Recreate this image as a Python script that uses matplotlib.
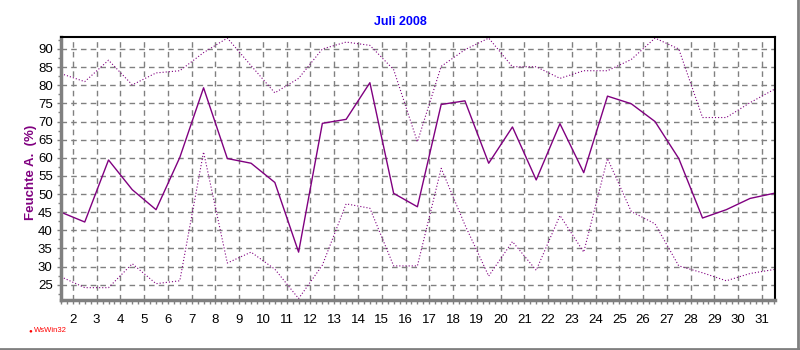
import numpy as np
import matplotlib
matplotlib.use('Agg')
import matplotlib.pyplot as plt
from matplotlib.ticker import MultipleLocator
from matplotlib.lines import Line2D

plt.rcParams['font.family'] = ['Liberation Sans', 'DejaVu Sans']

# daily humidity values, plotted at the middle of each day
days = np.arange(1, 32) + 0.5
mean_hum = [45.0, 42.3, 59.4, 51.2, 45.7, 60.1, 79.3, 59.8, 58.5, 53.2,
            34.0, 69.5, 70.6, 80.7, 50.2, 46.5, 74.7, 75.7, 58.5, 68.5,
            53.9, 69.4, 55.9, 77.0, 74.9, 70.0, 59.8, 43.4, 45.7, 48.8, 50.2]
max_hum = [83.2, 81.0, 86.9, 80.1, 83.4, 84.0, 89.0, 93.0, 85.4, 77.9,
           81.9, 90.0, 91.9, 91.0, 84.3, 64.4, 85.2, 89.8, 93.0, 85.1,
           85.1, 81.9, 84.0, 84.0, 87.1, 93.0, 90.0, 71.1, 71.1, 75.2, 78.8]
min_hum = [27.2, 24.2, 24.2, 30.8, 25.3, 26.1, 61.6, 31.0, 34.0, 29.3,
           21.2, 30.4, 47.3, 46.1, 30.2, 30.2, 57.1, 41.5, 27.4, 36.9,
           29.0, 44.1, 34.0, 59.8, 45.2, 41.8, 30.2, 28.3, 26.1, 28.1, 29.2]
day_ticks = list(range(2, 32))
hum_ticks = list(range(25, 95, 5))

purple = '#800080'

fig = plt.figure(figsize=(8, 3.5), dpi=100)
ax = fig.add_axes([61 / 800, 50 / 350, 714 / 800, 263 / 350])

ax.plot(days, max_hum, color=purple, lw=0.8, ls=(0, (1, 1.8)))
ax.plot(days, min_hum, color=purple, lw=0.8, ls=(0, (1, 1.8)))
ax.plot(days, mean_hum, color=purple, lw=1.0)

ax.set_xlim(1.5, 31.55)
ax.set_ylim(20.8, 93.3)
ax.set_xticks(day_ticks)
ax.set_yticks(hum_ticks)
ax.xaxis.set_minor_locator(MultipleLocator(0.25))
ax.yaxis.set_minor_locator(MultipleLocator(2.5))

ax.grid(True, which='major', color='#808080', ls=(0, (4, 3)), lw=1.0)
ax.tick_params(axis='x', which='major', length=3, width=1, color='#808080',
               labelsize=9.5, pad=7)
ax.tick_params(axis='x', which='minor', length=3, width=1, color='#808080')
ax.tick_params(axis='y', which='major', length=3, width=1, color='#808080',
               labelsize=9.5, pad=3)
ax.tick_params(axis='y', which='minor', length=2, width=1, color='#808080')

for s in ['left', 'bottom']:
    ax.spines[s].set_color('#808080')
    ax.spines[s].set_linewidth(2.5)
for s in ['top', 'right']:
    ax.spines[s].set_color('black')
    ax.spines[s].set_linewidth(1.5)

fig.text(31 / 800, 1 - 172 / 350, 'Feuchte A.  (%)', color=purple,
         fontsize=9.5, fontweight='bold', rotation=90,
         ha='center', va='center')
fig.text(0.5, 1 - 22 / 350, 'Juli 2008', color='#0000ff', fontsize=9,
         fontweight='bold', ha='center', va='center')

fig.text(28 / 800, 1 - 331 / 350, '\u25cf', color='#ff0000', fontsize=4.5,
         ha='left', va='center')
fig.text(34 / 800, 1 - 331 / 350, 'WsWin32', color='#ff0000', fontsize=5.5,
         ha='left', va='center')

# grey frame on the right and bottom edges
fig.add_artist(Line2D([0.998, 0.998], [0, 1], color='#808080', lw=2,
                      transform=fig.transFigure))
fig.add_artist(Line2D([0, 1], [0.003, 0.003], color='#808080', lw=2,
                      transform=fig.transFigure))

fig.savefig('out.png', dpi=100)
